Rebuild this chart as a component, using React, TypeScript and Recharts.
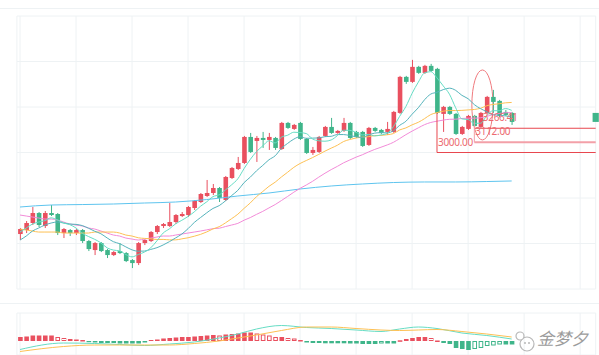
import React from "react";
import {
  ComposedChart,
  Bar,
  Line,
  XAxis,
  YAxis,
  CartesianGrid,
  ReferenceLine,
  ReferenceArea,
  ReferenceDot,
} from "recharts";

// candles (80 sessions)
const openP = [
  2104, 2148, 2225, 2335, 2192, 2335, 2324, 2115, 2148, 2115,
  2148, 2027, 1928, 2005, 1928, 1873, 1917, 1895, 1818, 1785,
  2005, 2027, 2126, 2192, 2192, 2236, 2302, 2313, 2390, 2456,
  2522, 2555, 2610, 2478, 2720, 2819, 2885, 3171, 3127, 3160,
  3138, 3160, 3039, 3325, 3259, 3325, 3149, 2995, 3006, 3182,
  3281, 3215, 3237, 3325, 3226, 3226, 3083, 3270, 3248, 3226,
  3226, 3435, 3831, 3776, 3941, 3875, 3952, 3919, 3424, 3501,
  3424, 3204, 3259, 3402, 3281, 3435, 3611, 3567, 3446, 3435,
];
const closeP = [
  2159, 2225, 2335, 2203, 2335, 2313, 2115, 2159, 2115, 2148,
  2027, 1939, 2005, 1917, 1873, 1906, 1895, 1807, 1785, 2005,
  2038, 2126, 2192, 2214, 2236, 2313, 2324, 2401, 2467, 2544,
  2555, 2610, 2500, 2731, 2830, 2885, 3171, 3006, 3160, 3138,
  3171, 3050, 3325, 3270, 3303, 3149, 2995, 3028, 3171, 3281,
  3215, 3237, 3325, 3160, 3171, 3072, 3270, 3237, 3215, 3259,
  3446, 3831, 3776, 3941, 3875, 3952, 3897, 3435, 3501, 3424,
  3204, 3281, 3402, 3292, 3435, 3611, 3556, 3402, 3413, 3336,
];
const highP = [
  2170, 2247, 2401, 2346, 2357, 2423, 2335, 2170, 2159, 2159,
  2159, 2038, 2016, 2016, 1939, 1917, 2005, 1906, 1829, 2016,
  2049, 2137, 2203, 2225, 2445, 2324, 2346, 2412, 2478, 2555,
  2698, 2654, 2621, 2742, 2841, 2951, 3182, 3215, 3182, 3226,
  3215, 3171, 3336, 3336, 3314, 3336, 3160, 3061, 3182, 3292,
  3380, 3248, 3380, 3336, 3237, 3237, 3281, 3281, 3259, 3336,
  3457, 3842, 3842, 4018, 3952, 3963, 3974, 3930, 3512, 3512,
  3435, 3292, 3413, 3413, 3446, 3622, 3688, 3578, 3468, 3446,
];
const lowP = [
  2038, 2115, 2203, 2181, 2170, 2302, 2093, 2060, 2082, 2093,
  2005, 1917, 1873, 1906, 1840, 1862, 1884, 1796, 1730, 1763,
  1983, 2016, 2104, 2170, 2181, 2214, 2291, 2291, 2368, 2445,
  2511, 2533, 2456, 2467, 2709, 2808, 2874, 2995, 2896, 3050,
  3028, 3028, 3028, 3259, 3248, 3138, 2984, 2973, 2995, 3171,
  3204, 3204, 3226, 3149, 3160, 3061, 3072, 3226, 3204, 3193,
  3215, 3424, 3754, 3765, 3864, 3864, 3886, 3424, 3226, 3413,
  3193, 3193, 3248, 3281, 3270, 3424, 3435, 3391, 3402, 3303,
];

// moving averages
const ma5 = [
  2126, 2170, 2214, 2236, 2251, 2282, 2260, 2225, 2207, 2170,
  2112, 2077, 2046, 2007, 1952, 1928, 1919, 1879, 1853, 1879,
  1906, 1952, 2029, 2115, 2161, 2216, 2255, 2297, 2348, 2409,
  2458, 2515, 2535, 2588, 2645, 2711, 2823, 2924, 3010, 3072,
  3129, 3105, 3168, 3190, 3223, 3219, 3208, 3149, 3129, 3124,
  3138, 3186, 3245, 3243, 3221, 3193, 3199, 3182, 3193, 3210,
  3285, 3397, 3505, 3650, 3773, 3875, 3888, 3820, 3732, 3641,
  3492, 3369, 3362, 3320, 3322, 3404, 3459, 3459, 3483, 3463,
];
const ma10 = [
  2038, 2082, 2137, 2170, 2203, 2225, 2236, 2225, 2214, 2210,
  2197, 2168, 2135, 2107, 2061, 2020, 1998, 1963, 1930, 1915,
  1917, 1935, 1954, 1984, 2020, 2061, 2104, 2163, 2231, 2285,
  2337, 2385, 2416, 2468, 2527, 2584, 2669, 2729, 2799, 2858,
  2920, 2964, 3046, 3100, 3147, 3174, 3156, 3158, 3160, 3174,
  3178, 3197, 3197, 3186, 3173, 3165, 3193, 3213, 3218, 3216,
  3239, 3298, 3343, 3421, 3492, 3580, 3642, 3662, 3691, 3707,
  3683, 3628, 3591, 3526, 3482, 3448, 3414, 3410, 3402, 3393,
];
const ma20 = [
  2159, 2148, 2137, 2126, 2126, 2126, 2126, 2115, 2115, 2115,
  2115, 2115, 2126, 2126, 2126, 2126, 2115, 2093, 2082, 2063,
  2056, 2052, 2044, 2045, 2040, 2040, 2051, 2063, 2080, 2100,
  2127, 2160, 2185, 2226, 2273, 2322, 2386, 2446, 2515, 2571,
  2628, 2674, 2731, 2783, 2837, 2879, 2912, 2944, 2979, 3015,
  3048, 3080, 3121, 3143, 3160, 3169, 3174, 3186, 3188, 3195,
  3208, 3248, 3270, 3304, 3332, 3372, 3417, 3438, 3454, 3461,
  3461, 3463, 3468, 3473, 3486, 3514, 3528, 3536, 3546, 3550,
];
const ma30 = [
  2313, 2302, 2291, 2280, 2269, 2269, 2258, 2236, 2214, 2203,
  2192, 2170, 2159, 2137, 2115, 2093, 2082, 2060, 2049, 2038,
  2049, 2060, 2071, 2082, 2082, 2093, 2104, 2115, 2126, 2137,
  2150, 2163, 2168, 2186, 2203, 2221, 2256, 2285, 2320, 2353,
  2391, 2428, 2472, 2517, 2564, 2606, 2643, 2683, 2729, 2772,
  2812, 2848, 2887, 2918, 2949, 2975, 3006, 3034, 3058, 3083,
  3112, 3153, 3196, 3235, 3271, 3306, 3330, 3344, 3356, 3365,
  3366, 3374, 3377, 3377, 3382, 3397, 3416, 3429, 3437, 3439,
];
// long average, read every few sessions
const longMaIdx = [0, 5, 10, 15, 20, 25, 30, 35, 40, 45, 50, 55, 60, 65, 70, 75, 79];
const longMa = [2401, 2423, 2428, 2434, 2445, 2456, 2483, 2522, 2555, 2599, 2632, 2654, 2670, 2676, 2676, 2681, 2687];

// MACD panel
const macdHist = [
  4, 4.5, 5.5, 5.5, 5.5, 5.5, 4, 3, 2, 1.5,
  1, -1.2, -1.5, -2, -2, -2, -2.5, -2.5, -2.5, -2.5,
  -1, 1, 1.5, 2.5, 3, 3.5, 4, 4, 4.5, 5,
  5.5, 6, 5.5, 6.5, 7, 7.5, 8.5, 8.5, 7.5, 6.5,
  5.5, 4, 4, 3, 2.5, 1, -1.5, -2, -2, -2.3,
  -2.3, -2.3, -2.3, -2.5, -2.5, -3, -3, -3, -2.5, -2.5,
  -2.5, 0.7, 2, 3, 4, 4, 3, 0.5, -2, -3,
  -7, -8, -9, -8, -7, -5, -4.5, -3.5, -3.5, -3.5,
];
const lineIdx = [0, 7, 12, 16, 20, 24, 28, 32, 35, 38, 42, 46, 50, 54, 58, 61, 64, 67, 71, 75, 79];
const dif = [-8.5, -2, -2.5, -3.5, -4.5, -3, -1, 3, 7, 12, 15.5, 13.5, 12.5, 11, 9.5, 12, 14, 12.5, 8, 5.5, 2];
const dea = [-10.5, -5.5, -4, -4, -4, -4, -2.5, 0, 3, 6, 10.5, 14, 14, 12.5, 11, 10.5, 11, 11.5, 9.5, 7, 4];

// drawn annotations
const supportLevels = [3000, 3112];
const supportFrom = [67, 73];
const supportTop = [3435, 3402];
const markLevel = 3266.41;
const markFrom = 73;

const SLOTS = 93;
const gridTicks = [0, 9, 18, 27, 36, 45, 54, 63, 72, 81, 90];
const priceTicks = [1500, 2000, 2500, 3000, 3500, 4000, 4500];

const RED = "#e9505f";
const GREEN = "#3fb58a";
const GRID = "#eef2f4";

const rows = Array.from({ length: SLOTS }, (_, i) => {
  const has = i < openP.length;
  const li = longMaIdx.indexOf(i);
  const mi = lineIdx.indexOf(i);
  return {
    i,
    range: has ? [lowP[i], highP[i]] : null,
    open: has ? openP[i] : null,
    close: has ? closeP[i] : null,
    high: has ? highP[i] : null,
    low: has ? lowP[i] : null,
    ma5: has ? ma5[i] : null,
    ma10: has ? ma10[i] : null,
    ma20: has ? ma20[i] : null,
    ma30: has ? ma30[i] : null,
    longMa: li >= 0 ? longMa[li] : null,
    macd: has ? macdHist[i] : null,
    prevMacd: has && i > 0 ? macdHist[i - 1] : null,
    dif: mi >= 0 ? dif[mi] : null,
    dea: mi >= 0 ? dea[mi] : null,
  };
});

function Candle(props: any) {
  const { x, y, width, height, payload } = props;
  if (!payload || payload.open == null || height == null) return <g />;
  const { open, close, high, low } = payload;
  const top = Math.min(y, y + height);
  const h = Math.abs(height);
  const span = high - low || 1;
  const toY = (v: number) => top + ((high - v) / span) * h;
  const color = close >= open ? RED : GREEN;
  const cx = x + width / 2;
  const bTop = toY(Math.max(open, close));
  const bBot = toY(Math.min(open, close));
  const bw = 4.6;
  return (
    <g>
      <line x1={cx} x2={cx} y1={top} y2={top + h} stroke={color} strokeWidth={1} />
      <rect x={cx - bw / 2} y={bTop} width={bw} height={Math.max(1, bBot - bTop)} fill={color} />
    </g>
  );
}

function MacdBar(props: any) {
  const { x, y, width, height, payload } = props;
  if (!payload || payload.macd == null) return <g />;
  const v = payload.macd;
  const prev = payload.prevMacd ?? v;
  const top = Math.min(y, y + height);
  const h = Math.max(1, Math.abs(height));
  const color = v >= 0 ? RED : GREEN;
  const hollow = Math.abs(v) < Math.abs(prev);
  const bw = 4.6;
  const cx = x + width / 2;
  return hollow ? (
    <rect x={cx - bw / 2 + 0.5} y={top + 0.5} width={bw - 1} height={Math.max(0.5, h - 1)} fill="#fff" stroke={color} strokeWidth={1} />
  ) : (
    <rect x={cx - bw / 2} y={top} width={bw} height={h} fill={color} />
  );
}

function PriceText({ text }: { text: string }) {
  return (props: any) => (
    <text x={props.cx + 1} y={props.cy - 7} fill="#ec6a6f" fontSize={10} letterSpacing={-0.3} fontFamily="'Noto Sans', sans-serif">
      {text}
    </text>
  );
}

function Ellipse(props: any) {
  const { x, y, width, height } = props;
  return (
    <ellipse cx={x + width / 2} cy={y + height / 2} rx={width / 2} ry={height / 2} fill="none" stroke="#f07a7e" strokeWidth={1} />
  );
}

export default function App() {
  return (
    <div style={{ position: "absolute", left: 0, top: 0, width: 599, height: 355, background: "#fff", overflow: "hidden" }}>
      <div style={{ position: "absolute", left: 0, top: 8, width: 599, height: 1, background: GRID }} />
      <div style={{ position: "absolute", left: 0, top: 0 }}>
        <ComposedChart width={599} height={303} data={rows} margin={{ top: 16, right: 3.3, left: 16.9, bottom: 14 }}>
          <CartesianGrid stroke={GRID} />
          <XAxis type="number" dataKey="i" domain={[-0.5, SLOTS - 0.5]} ticks={gridTicks} hide />
          <YAxis type="number" domain={[1500, 4500]} ticks={priceTicks} allowDataOverflow hide />
          <ReferenceDot x={74.2} y={markLevel} r={0} ifOverflow="visible" shape={PriceText({ text: "3266.41" })} />
          <Bar dataKey="range" barSize={5} shape={Candle} isAnimationActive={false} />
          <Line dataKey="longMa" type="monotone" stroke="#5ec4ee" strokeWidth={1} dot={false} connectNulls isAnimationActive={false} />
          <Line dataKey="ma30" type="monotone" stroke="#f28bd8" strokeWidth={1} dot={false} isAnimationActive={false} />
          <Line dataKey="ma20" type="monotone" stroke="#fdc054" strokeWidth={1} dot={false} isAnimationActive={false} />
          <Line dataKey="ma10" type="monotone" stroke="#55b3bb" strokeWidth={1} dot={false} isAnimationActive={false} />
          <Line dataKey="ma5" type="monotone" stroke="#66dcc4" strokeWidth={1} dot={false} isAnimationActive={false} />
          <ReferenceLine segment={[{ x: markFrom, y: markLevel }, { x: SLOTS - 0.5, y: markLevel }]} stroke="#e8474f" strokeWidth={1} />
          <ReferenceLine segment={[{ x: supportFrom[1], y: supportLevels[1] }, { x: SLOTS - 0.5, y: supportLevels[1] }]} stroke="#f3a0a8" strokeWidth={2} />
          <ReferenceLine segment={[{ x: supportFrom[1], y: supportTop[1] }, { x: supportFrom[1], y: supportLevels[1] }]} stroke="#f3a0a8" strokeWidth={1} />
          <ReferenceLine segment={[{ x: supportFrom[0], y: supportLevels[0] }, { x: SLOTS - 0.5, y: supportLevels[0] }]} stroke="#e8474f" strokeWidth={1} />
          <ReferenceLine segment={[{ x: supportFrom[0], y: supportTop[0] }, { x: supportFrom[0], y: supportLevels[0] }]} stroke="#e8474f" strokeWidth={1} />
          <ReferenceDot x={supportFrom[0]} y={supportLevels[0]} r={0} ifOverflow="visible" shape={PriceText({ text: "3000.00" })} />
          <ReferenceDot x={supportFrom[1]} y={supportLevels[1]} r={0} ifOverflow="visible" shape={PriceText({ text: "3112.00" })} />
          <ReferenceArea x1={72.6} x2={76} y1={3138} y2={3907} shape={Ellipse} ifOverflow="visible" />
          <ReferenceArea x1={92} x2={93} y1={closeP[79]} y2={openP[79]} fill={GREEN} fillOpacity={1} ifOverflow="visible" />
        </ComposedChart>
      </div>
      <div style={{ position: "absolute", left: 0, top: 303, width: 599, height: 1, background: GRID }} />
      <div style={{ position: "absolute", left: 0, top: 303 }}>
        <ComposedChart width={599} height={52} data={rows} margin={{ top: 10, right: 3.3, left: 16.9, bottom: 0 }}>
          <CartesianGrid stroke={GRID} />
          <XAxis type="number" dataKey="i" domain={[-0.5, SLOTS - 0.5]} ticks={gridTicks} hide />
          <YAxis type="number" domain={[-14, 28]} ticks={[28]} allowDataOverflow hide />
          <Bar dataKey="macd" barSize={5} shape={MacdBar} isAnimationActive={false} />
          <Line dataKey="dif" type="monotone" stroke="#66dcc4" strokeWidth={1} dot={false} connectNulls isAnimationActive={false} />
          <Line dataKey="dea" type="monotone" stroke="#fdc054" strokeWidth={1} dot={false} connectNulls isAnimationActive={false} />
        </ComposedChart>
      </div>
      <svg style={{ position: "absolute", left: 512, top: 330 }} width={26} height={25}>
        <circle cx={15} cy={14} r={7} fill="none" stroke="#b8b8b8" strokeWidth={1.2} />
        <circle cx={8} cy={6} r={4} fill="#fff" stroke="#b8b8b8" strokeWidth={1.2} />
        <circle cx={13} cy={13} r={1} fill="#b8b8b8" />
        <circle cx={17} cy={13} r={1} fill="#b8b8b8" />
      </svg>
      <div
        style={{
          position: "absolute",
          left: 537,
          top: 328,
          fontSize: 17,
          color: "#9c9c9c",
          fontStyle: "italic",
          fontFamily: "'Noto Sans CJK SC', sans-serif",
          lineHeight: "20px",
          whiteSpace: "nowrap",
        }}
      >
        金梦夕
      </div>
    </div>
  );
}
